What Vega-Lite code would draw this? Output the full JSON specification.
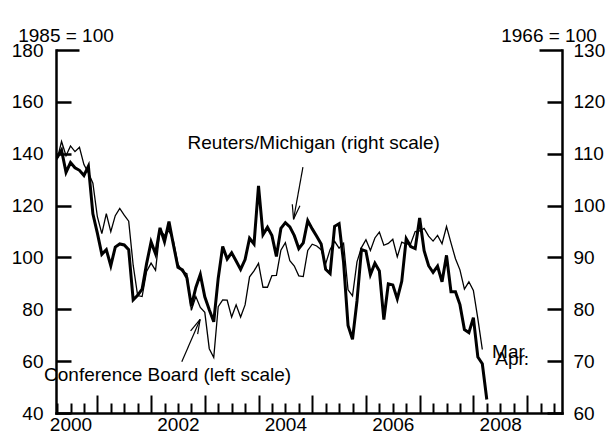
{
  "$schema": "https://vega.github.io/schema/vega-lite/v6.json",
  "width": 506,
  "height": 363,
  "autosize": {"type": "none"},
  "padding": {"left": 56, "top": 50, "right": 46, "bottom": 21},
  "background": "white",
  "config": {
    "view": {"stroke": null},
    "font": "Liberation Sans",
    "axis": {
      "labelFont": "Liberation Sans", "titleFont": "Liberation Sans",
      "labelColor": "black", "titleColor": "black", "domainColor": "black", "tickColor": "black",
      "labelFontSize": 19, "titleFontSize": 19, "titleFontWeight": "normal",
      "grid": false, "domainWidth": 2.5, "tickWidth": 2.5, "domainCap": "square"
    }
  },
  "datasets": {
    "cb": [
      {"t":2000.25,"v":137.7},{"t":2000.3333,"v":144.7},{"t":2000.4167,"v":139.2},{"t":2000.5,"v":143.0},{"t":2000.5833,"v":140.8},{"t":2000.6667,"v":142.5},{"t":2000.75,"v":135.8},{"t":2000.8333,"v":132.6},{"t":2000.9167,"v":128.6},
      {"t":2001,"v":115.7},{"t":2001.0833,"v":109.2},{"t":2001.1667,"v":116.9},{"t":2001.25,"v":109.9},{"t":2001.3333,"v":116.1},{"t":2001.4167,"v":118.9},{"t":2001.5,"v":116.3},{"t":2001.5833,"v":114.0},{"t":2001.6667,"v":97.0},{"t":2001.75,"v":85.3},{"t":2001.8333,"v":84.9},{"t":2001.9167,"v":94.6},
      {"t":2002,"v":97.8},{"t":2002.0833,"v":95.0},{"t":2002.1667,"v":110.7},{"t":2002.25,"v":108.5},{"t":2002.3333,"v":110.3},{"t":2002.4167,"v":106.3},{"t":2002.5,"v":97.4},{"t":2002.5833,"v":94.5},{"t":2002.6667,"v":93.7},{"t":2002.75,"v":79.6},{"t":2002.8333,"v":84.9},{"t":2002.9167,"v":80.7},
      {"t":2003,"v":78.8},{"t":2003.0833,"v":64.8},{"t":2003.1667,"v":61.4},{"t":2003.25,"v":81.0},{"t":2003.3333,"v":83.6},{"t":2003.4167,"v":83.5},{"t":2003.5,"v":77.0},{"t":2003.5833,"v":81.7},{"t":2003.6667,"v":77.0},{"t":2003.75,"v":81.7},{"t":2003.8333,"v":92.5},{"t":2003.9167,"v":94.8},
      {"t":2004,"v":97.7},{"t":2004.0833,"v":88.5},{"t":2004.1667,"v":88.5},{"t":2004.25,"v":93.0},{"t":2004.3333,"v":93.1},{"t":2004.4167,"v":102.8},{"t":2004.5,"v":105.7},{"t":2004.5833,"v":98.7},{"t":2004.6667,"v":96.7},{"t":2004.75,"v":92.9},{"t":2004.8333,"v":92.6},{"t":2004.9167,"v":102.7},
      {"t":2005,"v":105.1},{"t":2005.0833,"v":104.4},{"t":2005.1667,"v":103.0},{"t":2005.25,"v":97.5},{"t":2005.3333,"v":103.1},{"t":2005.4167,"v":106.2},{"t":2005.5,"v":103.6},{"t":2005.5833,"v":105.5},{"t":2005.6667,"v":87.5},{"t":2005.75,"v":85.2},{"t":2005.8333,"v":98.3},{"t":2005.9167,"v":103.8},
      {"t":2006,"v":106.8},{"t":2006.0833,"v":102.7},{"t":2006.1667,"v":107.5},{"t":2006.25,"v":109.8},{"t":2006.3333,"v":104.7},{"t":2006.4167,"v":105.4},{"t":2006.5,"v":107.0},{"t":2006.5833,"v":100.2},{"t":2006.6667,"v":105.9},{"t":2006.75,"v":105.1},{"t":2006.8333,"v":105.3},{"t":2006.9167,"v":110.0},
      {"t":2007,"v":110.2},{"t":2007.0833,"v":111.2},{"t":2007.1667,"v":108.2},{"t":2007.25,"v":106.3},{"t":2007.3333,"v":108.5},{"t":2007.4167,"v":105.3},{"t":2007.5,"v":111.9},{"t":2007.5833,"v":105.6},{"t":2007.6667,"v":99.5},{"t":2007.75,"v":95.2},{"t":2007.8333,"v":87.8},{"t":2007.9167,"v":90.6},
      {"t":2008,"v":87.3},{"t":2008.0833,"v":76.4},{"t":2008.1667,"v":64.5}
    ],
    "mich": [
      {"t":2000.25,"v":109.2},{"t":2000.3333,"v":110.7},{"t":2000.4167,"v":106.4},{"t":2000.5,"v":108.3},{"t":2000.5833,"v":107.3},{"t":2000.6667,"v":106.8},{"t":2000.75,"v":105.8},{"t":2000.8333,"v":107.6},{"t":2000.9167,"v":98.4},
      {"t":2001,"v":94.7},{"t":2001.0833,"v":90.6},{"t":2001.1667,"v":91.5},{"t":2001.25,"v":88.4},{"t":2001.3333,"v":92.0},{"t":2001.4167,"v":92.6},{"t":2001.5,"v":92.4},{"t":2001.5833,"v":91.5},{"t":2001.6667,"v":81.8},{"t":2001.75,"v":82.7},{"t":2001.8333,"v":83.9},{"t":2001.9167,"v":88.8},
      {"t":2002,"v":93.0},{"t":2002.0833,"v":90.7},{"t":2002.1667,"v":95.7},{"t":2002.25,"v":93.0},{"t":2002.3333,"v":96.9},{"t":2002.4167,"v":92.4},{"t":2002.5,"v":88.1},{"t":2002.5833,"v":87.6},{"t":2002.6667,"v":86.1},{"t":2002.75,"v":80.6},{"t":2002.8333,"v":84.2},{"t":2002.9167,"v":86.7},
      {"t":2003,"v":82.4},{"t":2003.0833,"v":79.9},{"t":2003.1667,"v":77.6},{"t":2003.25,"v":86.0},{"t":2003.3333,"v":92.1},{"t":2003.4167,"v":89.7},{"t":2003.5,"v":90.9},{"t":2003.5833,"v":89.3},{"t":2003.6667,"v":87.7},{"t":2003.75,"v":89.6},{"t":2003.8333,"v":93.7},{"t":2003.9167,"v":92.6},
      {"t":2004,"v":103.8},{"t":2004.0833,"v":94.4},{"t":2004.1667,"v":95.8},{"t":2004.25,"v":94.2},{"t":2004.3333,"v":90.2},{"t":2004.4167,"v":95.6},{"t":2004.5,"v":96.7},{"t":2004.5833,"v":95.9},{"t":2004.6667,"v":94.2},{"t":2004.75,"v":91.7},{"t":2004.8333,"v":92.8},{"t":2004.9167,"v":97.1},
      {"t":2005,"v":95.5},{"t":2005.0833,"v":94.1},{"t":2005.1667,"v":92.6},{"t":2005.25,"v":87.7},{"t":2005.3333,"v":86.9},{"t":2005.4167,"v":96.0},{"t":2005.5,"v":96.5},{"t":2005.5833,"v":89.1},{"t":2005.6667,"v":76.9},{"t":2005.75,"v":74.2},{"t":2005.8333,"v":81.6},{"t":2005.9167,"v":91.5},
      {"t":2006,"v":91.2},{"t":2006.0833,"v":86.7},{"t":2006.1667,"v":88.9},{"t":2006.25,"v":87.4},{"t":2006.3333,"v":78.0},{"t":2006.4167,"v":84.9},{"t":2006.5,"v":84.7},{"t":2006.5833,"v":82.0},{"t":2006.6667,"v":85.4},{"t":2006.75,"v":93.6},{"t":2006.8333,"v":92.1},{"t":2006.9167,"v":91.7},
      {"t":2007,"v":97.6},{"t":2007.0833,"v":91.3},{"t":2007.1667,"v":88.4},{"t":2007.25,"v":87.1},{"t":2007.3333,"v":88.3},{"t":2007.4167,"v":85.3},{"t":2007.5,"v":90.4},{"t":2007.5833,"v":83.4},{"t":2007.6667,"v":83.4},{"t":2007.75,"v":80.9},{"t":2007.8333,"v":76.1},{"t":2007.9167,"v":75.5},
      {"t":2008,"v":78.4},{"t":2008.0833,"v":70.8},{"t":2008.1667,"v":69.5},{"t":2008.25,"v":62.6}
    ],
    "notes": [
      {"label":"Reuters/Michigan (right scale)","kind":"series","x":2005.028,"y":144.1},
      {"label":"Conference Board (left scale)","kind":"series","x":2002.308,"y":54.8},
      {"label":"Mar.","kind":"end","x":2008.348,"y":63.5},
      {"label":"Apr.","kind":"end","x":2008.409,"y":60.8}
    ],
    "arrows": [
      {"arrow":"michigan","part":"shaft","x1":2004.827,"y1":134.8,"x2":2004.652,"y2":114.7},
      {"arrow":"michigan","part":"head1","x1":2004.652,"y1":114.7,"x2":2004.771,"y2":119.95},
      {"arrow":"michigan","part":"head2","x1":2004.652,"y1":114.7,"x2":2004.629,"y2":120.5},
      {"arrow":"conference","part":"shaft","x1":2002.572,"y1":59.8,"x2":2002.913,"y2":76.1},
      {"arrow":"conference","part":"head1","x1":2002.913,"y1":76.1,"x2":2002.736,"y2":71.7},
      {"arrow":"conference","part":"head2","x1":2002.913,"y1":76.1,"x2":2002.867,"y2":70.4}
    ]
  },
  "layer": [
    {
      "data": {"name": "cb"},
      "mark": {"type": "line", "color": "black", "strokeWidth": 1.3},
      "encoding": {
        "x": {
          "field": "t", "type": "quantitative",
          "scale": {"domain": [2000.23, 2009.65], "nice": false, "zero": false},
          "axis": {
            "orient": "bottom", "title": null, "labels": false,
            "values": [2000.25,2000.5,2000.75,2001,2001.25,2001.5,2001.75,2002,2002.25,2002.5,2002.75,2003,2003.25,2003.5,2003.75,2004,2004.25,2004.5,2004.75,2005,2005.25,2005.5,2005.75,2006,2006.25,2006.5,2006.75,2007,2007.25,2007.5,2007.75,2008,2008.25,2008.5,2008.75,2009,2009.25,2009.5],
            "tickSize": {"condition": {"test": "datum.value % 1 === 0", "value": -18}, "value": -10},
            "tickWidth": 2
          }
        },
        "y": {
          "field": "v", "type": "quantitative",
          "scale": {"domain": [40, 180], "nice": false, "zero": false},
          "axis": {
            "orient": "left", "values": [40,60,80,100,120,140,160,180],
            "title": "1985 = 100", "titleAngle": 0, "titleX": 9.5, "titleY": -15,
            "titleAlign": "center", "titleBaseline": "middle",
            "tickSize": {"condition": {"test": "datum.value === 180", "value": -23}, "value": -15},
            "labelPadding": {"condition": {"test": "datum.value === 180", "value": 36}, "value": 28},
            "labelAlign": "right", "labelBaseline": "middle", "labelFlush": false, "labelOverlap": false
          }
        }
      }
    },
    {
      "data": {"name": "arrows"},
      "mark": {"type": "rule", "color": "black", "strokeWidth": 1.2},
      "encoding": {
        "x": {"field": "x1", "type": "quantitative", "scale": {"domain": [2000.23, 2009.65], "nice": false, "zero": false}, "axis": null},
        "y": {"field": "y1", "type": "quantitative", "scale": {"domain": [40, 180], "nice": false, "zero": false}, "axis": null},
        "x2": {"field": "x2"},
        "y2": {"field": "y2"}
      }
    },
    {
      "data": {"name": "notes"},
      "transform": [{"filter": "datum.kind === 'series'"}],
      "mark": {"type": "text", "color": "black", "fontSize": 19, "font": "Liberation Sans", "align": "center", "baseline": "middle"},
      "encoding": {
        "x": {"field": "x", "type": "quantitative", "scale": {"domain": [2000.23, 2009.65], "nice": false, "zero": false}, "axis": null},
        "y": {"field": "y", "type": "quantitative", "scale": {"domain": [40, 180], "nice": false, "zero": false}, "axis": null},
        "text": {"field": "label"}
      }
    },
    {
      "data": {"name": "notes"},
      "transform": [{"filter": "datum.kind === 'end'"}],
      "mark": {"type": "text", "color": "black", "fontSize": 19, "font": "Liberation Sans", "align": "left", "baseline": "middle"},
      "encoding": {
        "x": {"field": "x", "type": "quantitative", "scale": {"domain": [2000.23, 2009.65], "nice": false, "zero": false}, "axis": null},
        "y": {"field": "y", "type": "quantitative", "scale": {"domain": [40, 180], "nice": false, "zero": false}, "axis": null},
        "text": {"field": "label"}
      }
    },
    {
      "data": {"name": "mich"},
      "mark": {"type": "line", "color": "black", "strokeWidth": 3},
      "encoding": {
        "x": {
          "field": "t", "type": "quantitative",
          "scale": {"domain": [2000.23, 2009.65], "nice": false, "zero": false},
          "axis": {
            "orient": "bottom", "title": null, "values": [2000.5, 2002.5, 2004.5, 2006.5, 2008.5],
            "labelExpr": "floor(datum.value)", "ticks": false, "domain": false,
            "labelPadding": 2, "labelBaseline": "top", "labelAlign": "center",
            "labelFlush": false, "labelOverlap": false
          }
        },
        "y": {
          "field": "v", "type": "quantitative",
          "scale": {"domain": [60, 130], "nice": false, "zero": false},
          "axis": {
            "orient": "right", "values": [60,70,80,90,100,110,120,130],
            "title": "1966 = 100", "titleAngle": 0, "titleX": -13.5, "titleY": -15,
            "titleAlign": "center", "titleBaseline": "middle",
            "tickSize": {"condition": {"test": "datum.value === 130", "value": -23}, "value": -15},
            "labelPadding": {"condition": {"test": "datum.value === 130", "value": 34}, "value": 26},
            "labelAlign": "left", "labelBaseline": "middle", "labelFlush": false, "labelOverlap": false
          }
        }
      }
    }
  ],
  "resolve": {"scale": {"y": "independent"}, "axis": {"x": "independent"}}
}
